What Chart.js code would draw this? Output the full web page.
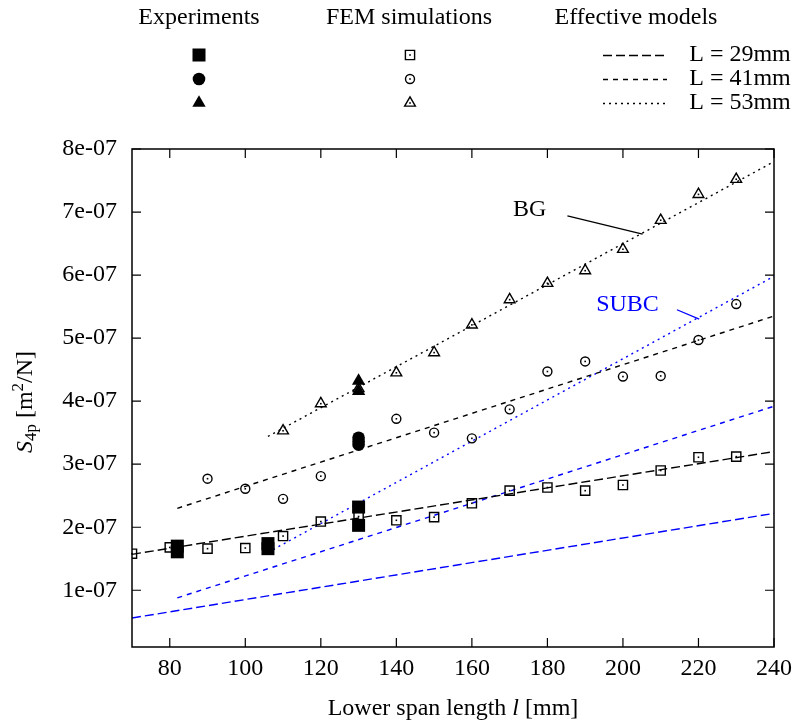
<!DOCTYPE html>
<html>
<head>
<meta charset="utf-8">
<script src="https://cdn.jsdelivr.net/npm/chart.js@4.4.1/dist/chart.umd.min.js"></script>
<style>
  body { margin: 0; background: #fff; }
  #wrap { width: 800px; height: 724px; position: relative; }
</style>
</head>
<body>
<div id="wrap"><canvas id="chart"></canvas></div>
<script>
// axis ticks
const X_TICKS = [80, 100, 120, 140, 160, 180, 200, 220, 240];
const Y_TICKS = [1e-7, 2e-7, 3e-7, 4e-7, 5e-7, 6e-7, 7e-7, 8e-7];
const Y_TICK_LABELS = ['1e-07', '2e-07', '3e-07', '4e-07', '5e-07', '6e-07', '7e-07', '8e-07'];

// FEM simulations, lower span length l [mm]
const FEM_L = [70, 80, 90, 100, 110, 120, 130, 140, 150, 160, 170, 180, 190, 200, 210, 220, 230];
const FEM_29 = [1.58e-7, 1.68e-7, 1.66e-7, 1.67e-7, 1.86e-7, 2.09e-7, 2.17e-7, 2.11e-7, 2.16e-7, 2.38e-7, 2.58e-7, 2.63e-7, 2.58e-7, 2.67e-7, 2.90e-7, 3.11e-7, 3.12e-7];
const FEM_41 = [null, null, 2.77e-7, 2.61e-7, 2.45e-7, 2.81e-7, 3.42e-7, 3.72e-7, 3.50e-7, 3.41e-7, 3.87e-7, 4.47e-7, 4.63e-7, 4.39e-7, 4.40e-7, 4.97e-7, 5.54e-7];
const FEM_53 = [null, null, null, null, 3.53e-7, 3.96e-7, 4.20e-7, 4.45e-7, 4.77e-7, 5.21e-7, 5.61e-7, 5.87e-7, 6.07e-7, 6.41e-7, 6.87e-7, 7.28e-7, 7.52e-7];

// experiments
const EXP_29_L = [82, 82, 106, 106, 130, 130];
const EXP_29 = [1.70e-7, 1.61e-7, 1.74e-7, 1.66e-7, 2.32e-7, 2.03e-7];
const EXP_41_L = [130, 130, 130];
const EXP_41 = [3.42e-7, 3.36e-7, 3.31e-7];
const EXP_53_L = [130, 130];
const EXP_53 = [4.32e-7, 4.16e-7];

// effective models (start / end of each line)
const BG_29_L = [70, 240],  BG_29 = [1.57e-7, 3.20e-7];
const BG_41_L = [82, 240],  BG_41 = [2.30e-7, 5.35e-7];
const BG_53_L = [106, 240], BG_53 = [3.44e-7, 7.80e-7];
const SUBC_29_L = [70, 240],  SUBC_29 = [0.56e-7, 2.22e-7];
const SUBC_41_L = [82, 240],  SUBC_41 = [0.88e-7, 3.92e-7];
const SUBC_53_L = [106, 240], SUBC_53 = [1.60e-7, 5.98e-7];

const LENGTHS = ['L = 29mm', 'L = 41mm', 'L = 53mm'];

const FONT = '"Liberation Serif", "DejaVu Serif", serif';
const FS = 24;
const BLUE = '#0000ff';
const DASH = [[9, 4], [5, 5], [2, 4]];
const STYLES = ['rect', 'circle', 'triangle'];
const FEM_R = [6.5, 4.5, 6.2];
const EXP_R = [9.2, 6.3, 7.7];

function pts(xs, ys) {
  return xs.map((x, i) => ({ x: x, y: ys[i] })).filter(p => p.y != null);
}

function lineSet(xs, ys, color, dash) {
  return {
    data: pts(xs, ys), showLine: true, borderColor: color, borderWidth: 1.4,
    borderDash: dash, pointRadius: 0, pointHoverRadius: 0, fill: false, order: 3, tension: 0
  };
}
function femSet(xs, ys, i) {
  return {
    data: pts(xs, ys), showLine: false, pointStyle: STYLES[i], pointRadius: FEM_R[i],
    pointBorderColor: '#000', pointBackgroundColor: 'rgba(0,0,0,0)', pointBorderWidth: 1.4,
    fem: true, order: 2
  };
}
function expSet(xs, ys, i) {
  return {
    data: pts(xs, ys), showLine: false, pointStyle: STYLES[i], pointRadius: EXP_R[i],
    pointBorderColor: '#000', pointBackgroundColor: '#000', pointBorderWidth: 0, order: 1
  };
}

function marker(ctx, style, x, y, r, filled) {
  ctx.beginPath();
  if (style === 'rect') {
    const s = r * Math.SQRT1_2;
    ctx.rect(x - s, y - s, 2 * s, 2 * s);
  } else if (style === 'circle') {
    ctx.arc(x, y, r, 0, Math.PI * 2);
  } else {
    ctx.moveTo(x, y - r);
    ctx.lineTo(x + 0.866 * r, y + 0.5 * r);
    ctx.lineTo(x - 0.866 * r, y + 0.5 * r);
    ctx.closePath();
  }
  if (filled) ctx.fill(); else ctx.stroke();
}

// draw a row of [text, size, italic, shift] pieces centred at (cx, cy)
function richText(ctx, parts, cx, cy, rot) {
  ctx.save();
  ctx.translate(cx, cy);
  if (rot) ctx.rotate(rot);
  ctx.textBaseline = 'alphabetic';
  ctx.textAlign = 'left';
  let w = 0;
  parts.forEach(p => {
    ctx.font = (p[2] ? 'italic ' : '') + p[1] + 'px ' + FONT;
    w += ctx.measureText(p[0]).width;
  });
  let x = -w / 2;
  parts.forEach(p => {
    ctx.font = (p[2] ? 'italic ' : '') + p[1] + 'px ' + FONT;
    ctx.fillText(p[0], x, 8 + p[3]);
    x += ctx.measureText(p[0]).width;
  });
  ctx.restore();
}

const decor = {
  id: 'decor',
  afterDatasetsDraw(chart) {
    const ctx = chart.ctx, a = chart.chartArea;
    const xs = chart.scales.x, ys = chart.scales.y;
    ctx.save();
    // dots in FEM markers
    ctx.fillStyle = '#000';
    chart.data.datasets.forEach((ds, i) => {
      if (!ds.fem) return;
      chart.getDatasetMeta(i).data.forEach(el => {
        ctx.fillRect(el.x - 0.8, el.y - 0.8, 1.6, 1.6);
      });
    });
    // frame and inward ticks
    ctx.strokeStyle = '#000';
    ctx.lineWidth = 1.5;
    ctx.strokeRect(a.left, a.top, a.right - a.left, a.bottom - a.top);
    ctx.lineWidth = 1.2;
    ctx.beginPath();
    X_TICKS.forEach(v => {
      const px = xs.getPixelForValue(v);
      ctx.moveTo(px, a.bottom); ctx.lineTo(px, a.bottom - 9);
      ctx.moveTo(px, a.top); ctx.lineTo(px, a.top + 9);
    });
    Y_TICKS.forEach(v => {
      const py = ys.getPixelForValue(v);
      ctx.moveTo(a.left, py); ctx.lineTo(a.left + 9, py);
      ctx.moveTo(a.right, py); ctx.lineTo(a.right - 9, py);
    });
    ctx.stroke();
    // model labels
    ctx.font = FS + 'px ' + FONT;
    ctx.textAlign = 'center';
    ctx.textBaseline = 'middle';
    ctx.fillStyle = '#000';
    ctx.fillText('BG', xs.getPixelForValue(175.3), ys.getPixelForValue(7.03e-7));
    ctx.lineWidth = 1.3;
    ctx.beginPath();
    ctx.moveTo(xs.getPixelForValue(185.3), ys.getPixelForValue(6.94e-7));
    ctx.lineTo(xs.getPixelForValue(205.2), ys.getPixelForValue(6.65e-7));
    ctx.stroke();
    ctx.fillStyle = BLUE;
    ctx.strokeStyle = BLUE;
    ctx.fillText('SUBC', xs.getPixelForValue(201.2), ys.getPixelForValue(5.53e-7));
    ctx.beginPath();
    ctx.moveTo(xs.getPixelForValue(214.3), ys.getPixelForValue(5.45e-7));
    ctx.lineTo(xs.getPixelForValue(220.2), ys.getPixelForValue(5.30e-7));
    ctx.stroke();
    ctx.restore();
  },
  afterDraw(chart) {
    const ctx = chart.ctx;
    ctx.save();
    ctx.fillStyle = '#000';
    ctx.strokeStyle = '#000';
    // legend headers
    ctx.font = FS + 'px ' + FONT;
    ctx.textAlign = 'center';
    ctx.textBaseline = 'middle';
    ctx.fillText('Experiments', 199, 18);
    ctx.fillText('FEM simulations', 409, 18);
    ctx.fillText('Effective models', 636, 18);
    const rows = [55, 79, 103];
    rows.forEach((ry, i) => {
      ctx.fillStyle = '#000';
      ctx.strokeStyle = '#000';
      marker(ctx, STYLES[i], 199, ry, EXP_R[i], true);
      ctx.lineWidth = 1.4;
      marker(ctx, STYLES[i], 410, ry, FEM_R[i], false);
      ctx.fillRect(410 - 0.8, ry - 0.8, 1.6, 1.6);
      ctx.lineWidth = 1.4;
      ctx.strokeStyle = '#000';
      ctx.setLineDash(DASH[i]);
      ctx.beginPath();
      ctx.moveTo(603, ry + 0.5); ctx.lineTo(667, ry + 0.5);
      ctx.stroke();
      ctx.setLineDash([]);
      ctx.fillText(LENGTHS[i], 740, ry);
    });
    // axis titles
    richText(ctx, [['Lower span length ', FS, false, 0], ['l', FS, true, 0], [' [mm]', FS, false, 0]], 453, 707);
    richText(ctx, [['S', FS, true, 0], ['4p', 17, false, 4], [' [m', FS, false, 0], ['2', 17, false, -9], ['/N]', FS, false, 0]], 24, 402, -Math.PI / 2);
    ctx.restore();
  }
};

new Chart(document.getElementById('chart'), {
  type: 'scatter',
  data: {
    datasets: [
      expSet(EXP_29_L, EXP_29, 0),
      expSet(EXP_41_L, EXP_41, 1),
      expSet(EXP_53_L, EXP_53, 2),
      femSet(FEM_L, FEM_29, 0),
      femSet(FEM_L, FEM_41, 1),
      femSet(FEM_L, FEM_53, 2),
      lineSet(BG_29_L, BG_29, '#000', DASH[0]),
      lineSet(BG_41_L, BG_41, '#000', DASH[1]),
      lineSet(BG_53_L, BG_53, '#000', DASH[2]),
      lineSet(SUBC_29_L, SUBC_29, BLUE, DASH[0]),
      lineSet(SUBC_41_L, SUBC_41, BLUE, DASH[1]),
      lineSet(SUBC_53_L, SUBC_53, BLUE, DASH[2])
    ]
  },
  options: {
    responsive: true,
    maintainAspectRatio: false,
    animation: false,
    layout: { padding: { top: 149, right: 26, left: 0, bottom: 0 } },
    plugins: { legend: { display: false }, tooltip: { enabled: false } },
    scales: {
      x: {
        type: 'linear', min: 70, max: 240,
        afterBuildTicks: s => { s.ticks = X_TICKS.map(v => ({ value: v })); },
        afterFit: s => { s.height = 77; },
        grid: { display: false, drawTicks: false },
        border: { display: false },
        ticks: { color: '#000', padding: 7, maxRotation: 0, font: { family: FONT, size: FS } }
      },
      y: {
        type: 'linear', min: 1e-8, max: 8e-7,
        afterBuildTicks: s => { s.ticks = Y_TICKS.map(v => ({ value: v })); },
        afterFit: s => { s.width = 132; },
        grid: { display: false, drawTicks: false },
        border: { display: false },
        ticks: {
          color: '#000', padding: 15, font: { family: FONT, size: FS },
          callback: (v, i) => Y_TICK_LABELS[i]
        }
      }
    }
  },
  plugins: [decor]
});
</script>
</body>
</html>
